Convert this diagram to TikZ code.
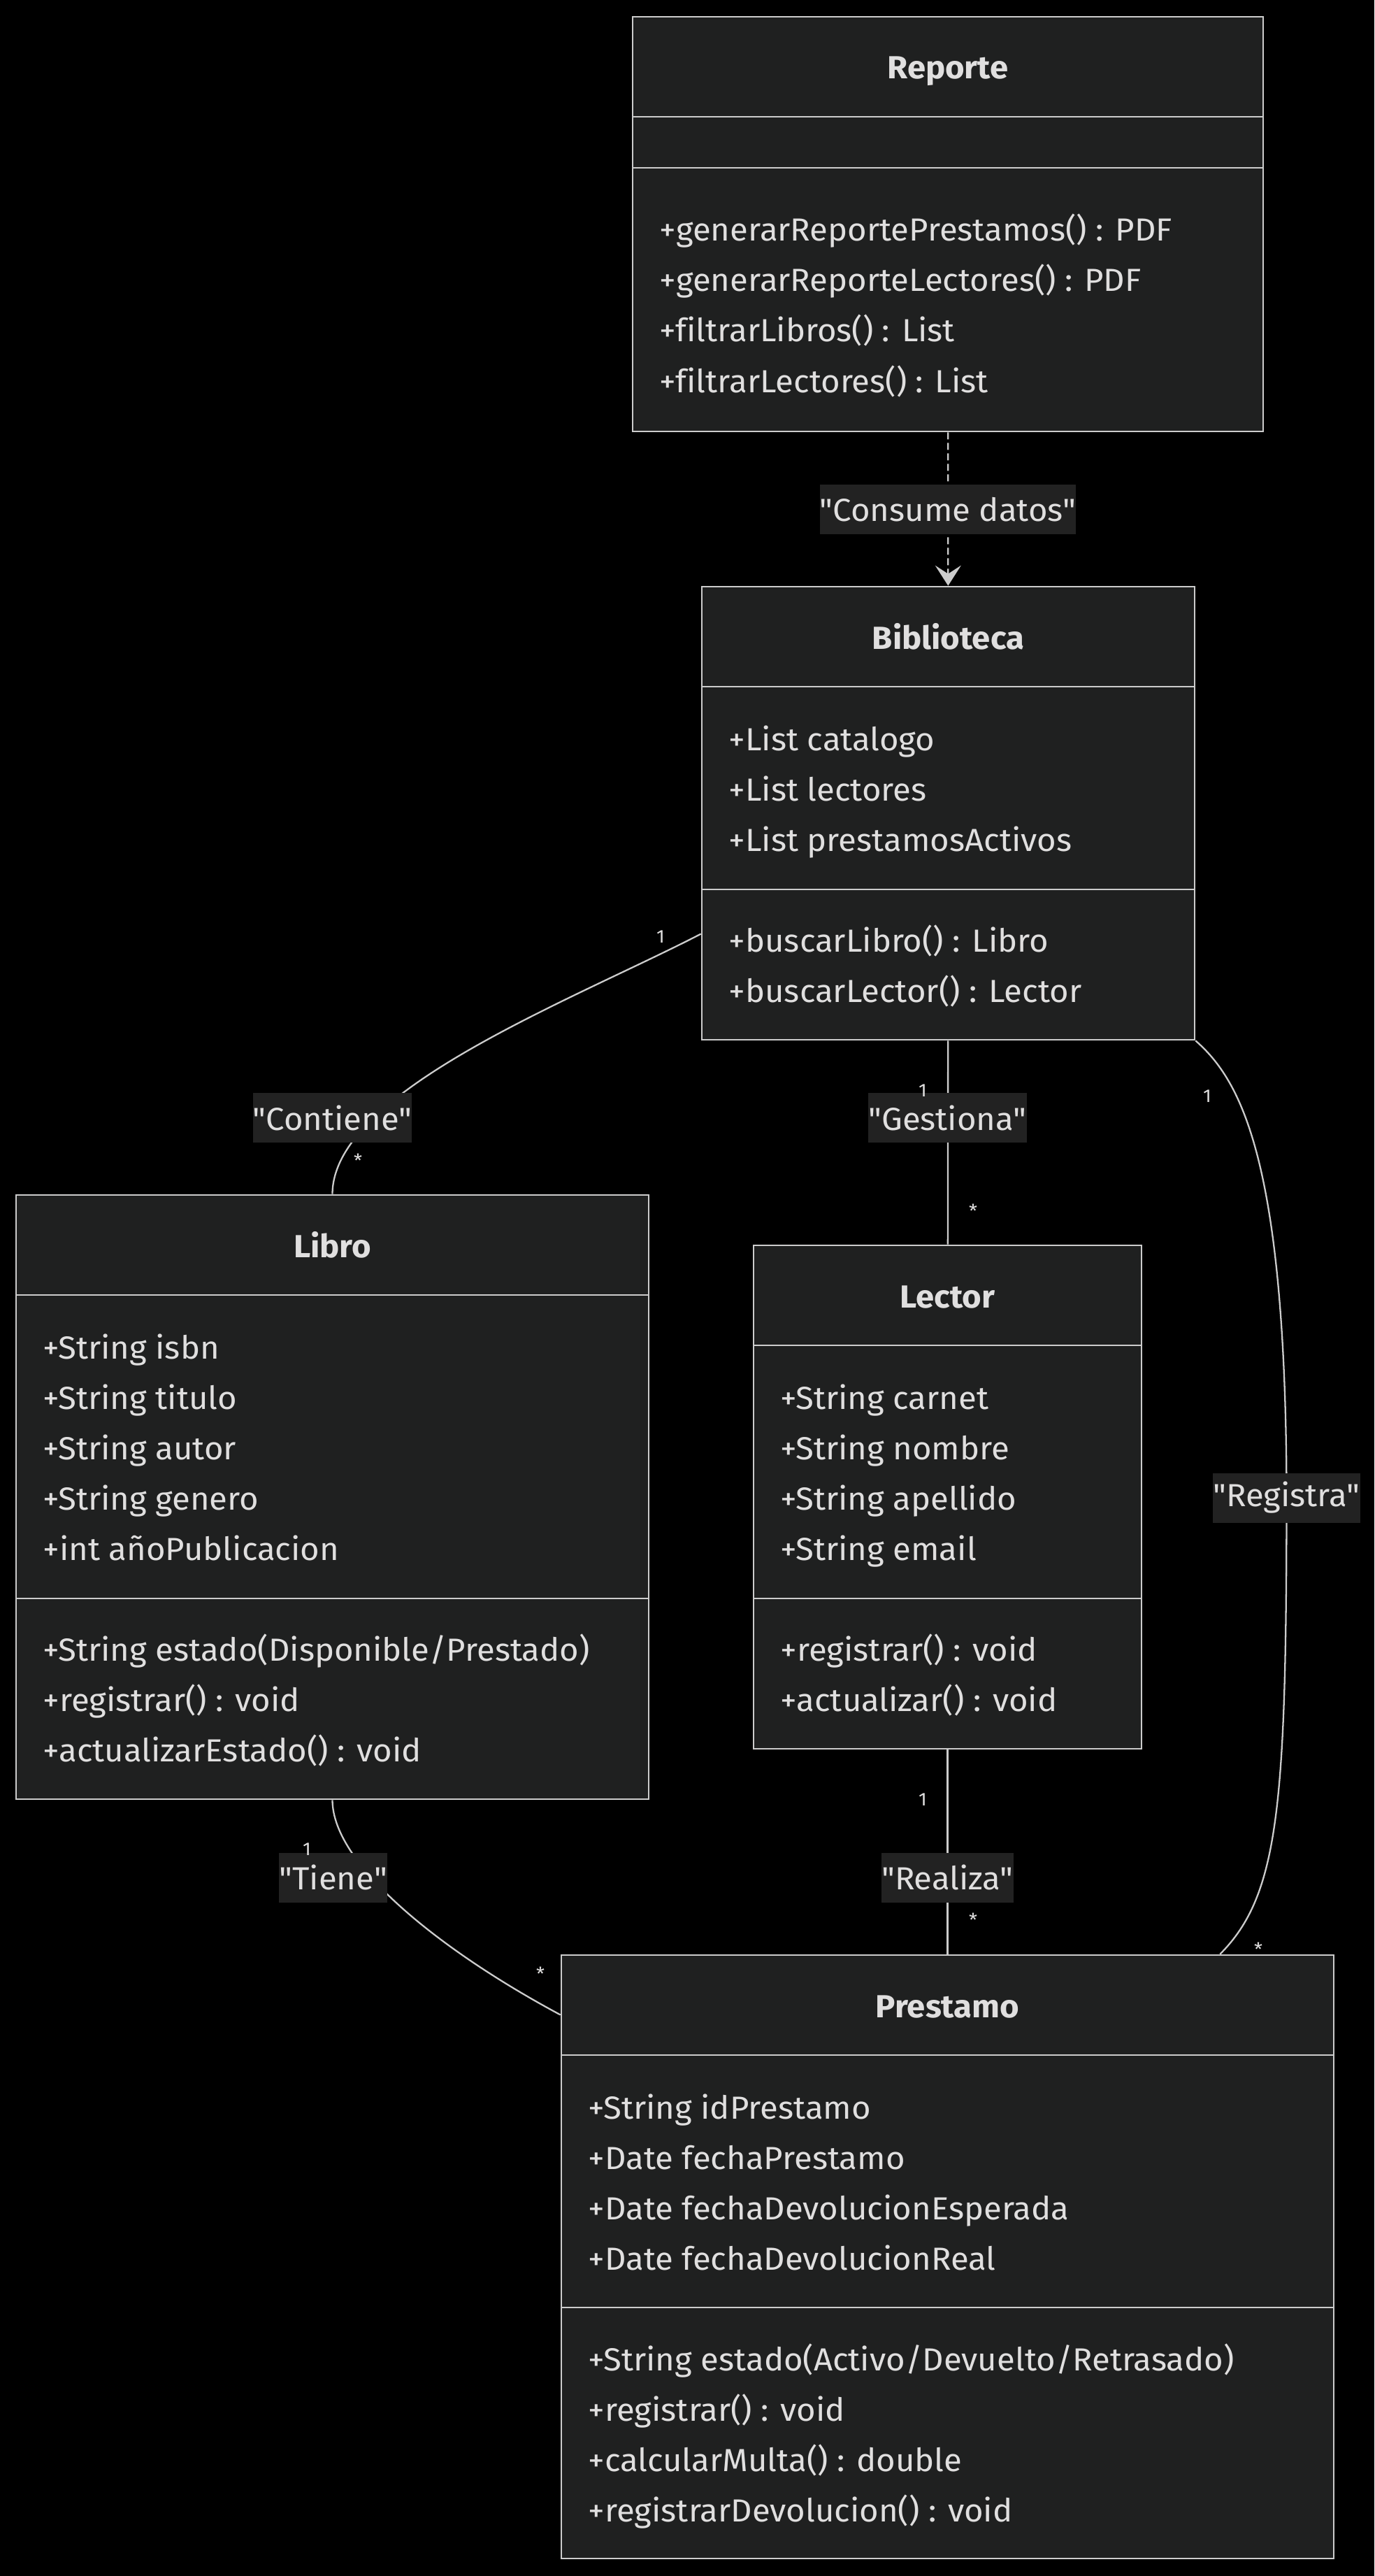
\documentclass[tikz,border=0pt]{standalone}
\usepackage{fontspec}
\setmainfont{Fira Sans}[Ligatures={TeXOff, CommonOff}, FakeStretch=1.035]
\usepackage{xcolor}
\usetikzlibrary{arrows.meta, backgrounds}

\definecolor{boxfill}{HTML}{1F2020}
\definecolor{boxline}{HTML}{CCCCCC}
\definecolor{txt}{HTML}{E0DFDF}
\definecolor{lblfill}{HTML}{222222}

\tikzset{
    classbox/.style={draw=boxline, fill=boxfill, line width=0.75pt, inner sep=0pt},
    divider/.style={draw=boxline, line width=0.75pt},
    cname/.style={text=txt, inner sep=0pt, text height=0.42cm, text depth=0.06cm, font=\fontsize{13}{15}\selectfont\bfseries},
    member/.style={text=txt, anchor=west, inner sep=0pt, text height=0.42cm, text depth=0.06cm, font=\fontsize{13}{15}\selectfont},
    rel/.style={draw=boxline, line width=0.65pt},
    rlabel/.style={fill=lblfill, text=txt, inner xsep=0pt, inner ysep=0pt, minimum height=0.71cm, font=\fontsize{13}{15}\selectfont},
    mult/.style={text=txt, inner sep=0pt, font=\fontsize{7.5}{9}\selectfont}
}

\begin{document}
\begin{tikzpicture}
    \useasboundingbox (0,0) rectangle (19.66,-36.84);

    % Reporte
    \node[classbox, minimum width=9.02cm, minimum height=5.93cm] (rep) at (13.56,-3.205) {};
    \draw[divider] (9.05,-1.67) -- (18.07,-1.67);
    \draw[divider] (9.05,-2.40) -- (18.07,-2.40);
    \node[cname] (rep-t) at (13.56,-0.95) {Reporte};
    \node[member] (rep-m1) at (9.43,-3.27) {+generarReportePrestamos() : PDF};
    \node[member] (rep-m2) at (9.43,-3.99) {+generarReporteLectores() : PDF};
    \node[member] (rep-m3) at (9.43,-4.71) {+filtrarLibros() : List};
    \node[member] (rep-m4) at (9.43,-5.44) {+filtrarLectores() : List};

    % Biblioteca
    \node[classbox, minimum width=7.05cm, minimum height=6.48cm] (bib) at (13.565,-11.63) {};
    \draw[divider] (10.04,-9.82) -- (17.09,-9.82);
    \draw[divider] (10.04,-12.72) -- (17.09,-12.72);
    \node[cname] (bib-t) at (13.565,-9.105) {Biblioteca};
    \node[member] (bib-a1) at (10.42,-10.55) {+List catalogo};
    \node[member] (bib-a2) at (10.42,-11.27) {+List lectores};
    \node[member] (bib-a3) at (10.42,-11.99) {+List prestamosActivos};
    \node[member] (bib-m1) at (10.42,-13.43) {+buscarLibro() : Libro};
    \node[member] (bib-m2) at (10.42,-14.15) {+buscarLector() : Lector};

    % Libro
    \node[classbox, minimum width=9.05cm, minimum height=8.64cm] (lib) at (4.755,-21.41) {};
    \draw[divider] (0.23,-18.52) -- (9.28,-18.52);
    \draw[divider] (0.23,-22.86) -- (9.28,-22.86);
    \node[cname] (lib-t) at (4.755,-17.80) {Libro};
    \node[member] (lib-a1) at (0.61,-19.25) {+String isbn};
    \node[member] (lib-a2) at (0.61,-19.97) {+String titulo};
    \node[member] (lib-a3) at (0.61,-20.69) {+String autor};
    \node[member] (lib-a4) at (0.61,-21.41) {+String genero};
    \node[member] (lib-a5) at (0.61,-22.13) {+int añoPublicacion};
    \node[member] (lib-m1) at (0.61,-23.57) {+String estado(Disponible/Prestado)};
    \node[member] (lib-m2) at (0.61,-24.29) {+registrar() : void};
    \node[member] (lib-m3) at (0.61,-25.01) {+actualizarEstado() : void};

    % Lector
    \node[classbox, minimum width=5.55cm, minimum height=7.20cm] (lec) at (13.555,-21.41) {};
    \draw[divider] (10.78,-19.24) -- (16.33,-19.24);
    \draw[divider] (10.78,-22.86) -- (16.33,-22.86);
    \node[cname] (lec-t) at (13.555,-18.52) {Lector};
    \node[member] (lec-a1) at (11.16,-19.97) {+String carnet};
    \node[member] (lec-a2) at (11.16,-20.69) {+String nombre};
    \node[member] (lec-a3) at (11.16,-21.41) {+String apellido};
    \node[member] (lec-a4) at (11.16,-22.13) {+String email};
    \node[member] (lec-m1) at (11.16,-23.57) {+registrar() : void};
    \node[member] (lec-m2) at (11.16,-24.29) {+actualizar() : void};

    % Prestamo
    \node[classbox, minimum width=11.05cm, minimum height=8.63cm] (pre) at (13.555,-32.275) {};
    \draw[divider] (8.03,-29.39) -- (19.08,-29.39);
    \draw[divider] (8.03,-33.00) -- (19.08,-33.00);
    \node[cname] (pre-t) at (13.555,-28.67) {Prestamo};
    \node[member] (pre-a1) at (8.41,-30.12) {+String idPrestamo};
    \node[member] (pre-a2) at (8.41,-30.84) {+Date fechaPrestamo};
    \node[member] (pre-a3) at (8.41,-31.56) {+Date fechaDevolucionEsperada};
    \node[member] (pre-a4) at (8.41,-32.28) {+Date fechaDevolucionReal};
    \node[member] (pre-m1) at (8.41,-33.72) {+String estado(Activo/Devuelto/Retrasado)};
    \node[member] (pre-m2) at (8.41,-34.44) {+registrar() : void};
    \node[member] (pre-m3) at (8.41,-35.16) {+calcularMulta() : double};
    \node[member] (pre-m4) at (8.41,-35.88) {+registrarDevolucion() : void};

    % Relation labels
    \node[rlabel] (consume) at (13.56,-7.285) {"Consume datos"};
    \node[rlabel] (contiene) at (4.755,-15.985) {"Contiene"};
    \node[rlabel] (gestiona) at (13.555,-15.985) {"Gestiona"};
    \node[rlabel] (registra) at (18.405,-21.42) {"Registra"};
    \node[rlabel] (tiene) at (4.765,-26.85) {"Tiene"};
    \node[rlabel] (realiza) at (13.555,-26.85) {"Realiza"};

    % Multiplicities
    \node[mult] (m-bib-lib) at (9.45,-13.40) {1};
    \node[mult] (m-lib-bib) at (5.12,-16.60) {*};
    \node[mult] (m-bib-lec) at (13.20,-15.60) {1};
    \node[mult] (m-lec-bib) at (13.92,-17.32) {*};
    \node[mult] (m-bib-pre) at (17.27,-15.68) {1};
    \node[mult] (m-pre-bib) at (18.00,-27.88) {*};
    \node[mult] (m-lec-pre) at (13.20,-25.74) {1};
    \node[mult] (m-pre-lec) at (13.92,-27.46) {*};
    \node[mult] (m-lib-pre) at (4.39,-26.45) {1};
    \node[mult] (m-pre-lib) at (7.73,-28.23) {*};

    % Connectors, behind the labels
    \begin{scope}[on background layer]
        \fill[black] (0,0) rectangle (19.66,-36.84);
        \draw[rel, dash pattern=on 1mm off 0.5mm, -{Stealth[length=2.9mm, width=3.7mm, inset=1.2mm]}] (rep) -- (bib);
        \draw[rel] (bib.206) .. controls (8.2,-14.3) and (4.76,-15.6) .. (lib.north);
        \draw[rel] (bib) -- (lec);
        \draw[rel] (bib.south east) .. controls (17.75,-15.45) and (18.40,-16.6) .. (registra.center)
            .. controls (18.40,-25.8) and (18.3,-27.1) .. (pre.48);
        \draw[rel] (lib.south) .. controls (4.76,-26.7) and (6.4,-27.95) .. (pre.148);
        \draw[rel] (lec) -- (pre);
    \end{scope}
\end{tikzpicture}
\end{document}
